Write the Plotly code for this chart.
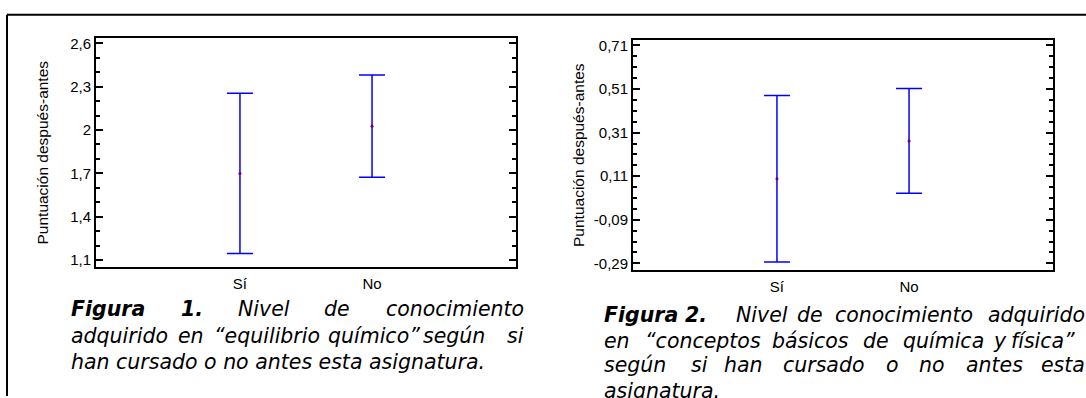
import plotly.graph_objects as go

W, H = 1086, 398

# ---------------- data ----------------
groups = ["Sí", "No"]

fig1_mean = [1.70, 2.027]
fig1_lower = [1.145, 1.673]
fig1_upper = [2.255, 2.381]
fig1_tickvals = [1.1, 1.4, 1.7, 2.0, 2.3, 2.6]
fig1_ticktext = ["1,1", "1,4", "1,7", "2", "2,3", "2,6"]

fig2_mean = [0.098, 0.272]
fig2_lower = [-0.284, 0.032]
fig2_upper = [0.480, 0.513]
fig2_tickvals = [-0.29, -0.09, 0.11, 0.31, 0.51, 0.71]
fig2_ticktext = ["-0,29", "-0,09", "0,11", "0,31", "0,51", "0,71"]

y_title = "Puntuación después-antes"

# ---------------- helpers ----------------
def px(x):
    return x / W

def py(y):
    return 1 - y / H

BLUE = "#0000FF"
DOT = "#7A0040"
TICKFONT = dict(family="Liberation Sans, Arial, sans-serif", size=15, color="black")
CAPFONT = dict(family="DejaVu Sans, Verdana, sans-serif", size=20.5, color="black")

fig = go.Figure()

def add_panel(mean, lower, upper, xa, ya):
    fig.add_trace(go.Scatter(
        x=groups, y=mean, mode="markers",
        marker=dict(color=DOT, size=3, line=dict(width=0)),
        error_y=dict(type="data", symmetric=False,
                     array=[u - m for u, m in zip(upper, mean)],
                     arrayminus=[m - l for m, l in zip(mean, lower)],
                     color=BLUE, thickness=1.5, width=13),
        xaxis=xa, yaxis=ya, showlegend=False, hoverinfo="skip",
    ))

add_panel(fig1_mean, fig1_lower, fig1_upper, "x", "y")
add_panel(fig2_mean, fig2_lower, fig2_upper, "x2", "y2")

xcommon = dict(type="category", range=[-1.09, 2.09], showline=True, linecolor="black",
               linewidth=2, mirror=True, ticks="", showgrid=False, zeroline=False,
               tickfont=TICKFONT, ticklabelstandoff=2)

def ycommon(tv, tt, rng, minor_tick0, minor_dtick, standoff):
    return dict(range=rng, tickmode="array", tickvals=tv, ticktext=tt,
                showline=True, linecolor="black", linewidth=2, mirror="ticks",
                ticks="inside", ticklen=7, tickwidth=1.5, tickcolor="black",
                minor=dict(ticks="inside", ticklen=4, tickwidth=1.5, tickcolor="black",
                           tickmode="linear", tick0=minor_tick0, dtick=minor_dtick),
                showgrid=False, zeroline=False, tickfont=TICKFONT,
                title=dict(text=y_title, font=dict(family="Liberation Sans, Arial, sans-serif",
                                                   size=15.5, color="black"), standoff=standoff))

fig.update_layout(
    width=W, height=H, margin=dict(l=0, r=0, t=0, b=0),
    paper_bgcolor="white", plot_bgcolor="white",
    xaxis=dict(domain=[px(96), px(516)], anchor="y", **xcommon),
    yaxis=dict(domain=[py(267), py(35)], anchor="x",
               **ycommon(fig1_tickvals, fig1_ticktext, [1.052, 2.634], 1.1, 0.1, 18)),
    xaxis2=dict(domain=[px(633), px(1053)], anchor="y2", **xcommon),
    yaxis2=dict(domain=[py(270), py(37)], anchor="x2",
                **ycommon(fig2_tickvals, fig2_ticktext, [-0.32, 0.733], -0.29, 0.05, 5)),
)

# page frame
fig.add_shape(type="line", xref="paper", yref="paper", x0=px(7), x1=px(7), y0=0, y1=py(11),
              line=dict(color="black", width=2))
fig.add_shape(type="line", xref="paper", yref="paper", x0=px(7), x1=1, y0=py(11), y1=py(11),
              line=dict(color="black", width=2))

# captions: (text, x px, centre y px, anchor)
caption_words = [
    ("<b>Figura</b>", 70, 310, "left"), ("<b>1.</b>", 180, 310, "left"),
    ("Nivel", 237, 310, "left"), ("de", 323, 310, "left"),
    ("conocimiento", 525, 310, "right"),
    ("adquirido", 70, 337, "left"), ("en", 177, 337, "left"),
    ("“equilibrio", 213, 337, "left"), ("químico”", 327, 337, "left"),
    ("según", 422, 337, "left"), ("si", 525, 337, "right"),
    ("han cursado o no antes esta asignatura.", 70, 363, "left"),
    ("<b>Figura</b>", 603, 316, "left"), ("<b>2.</b>", 684, 316, "left"),
    ("Nivel", 735, 316, "left"), ("de", 796, 316, "left"),
    ("conocimiento", 834, 316, "left"), ("adquirido", 987, 316, "left"),
    ("en", 603, 342, "left"), ("“conceptos", 644, 342, "left"), ("básicos", 771, 342, "left"),
    ("de", 862, 342, "left"), ("química", 902, 342, "left"), ("y", 992, 342, "left"),
    ("física”", 1010, 342, "left"),
    ("según", 603, 367, "left"), ("si", 690, 367, "left"), ("han", 723, 367, "left"),
    ("cursado", 782, 367, "left"), ("o", 885, 367, "left"), ("no", 918, 367, "left"),
    ("antes", 965, 367, "left"), ("esta", 1040, 367, "left"),
    ("asignatura.", 603, 393, "left"),
]
for txt, x, y, anc in caption_words:
    fig.add_annotation(text="<i>" + txt + "</i>", xref="paper", yref="paper",
                       x=px(x), y=py(y), xanchor=anc, yanchor="middle",
                       showarrow=False, font=CAPFONT, borderpad=0)

fig.write_html("out.html", config={"displayModeBar": False},
               post_script="document.body.style.margin='0';document.body.style.overflow='hidden';")
